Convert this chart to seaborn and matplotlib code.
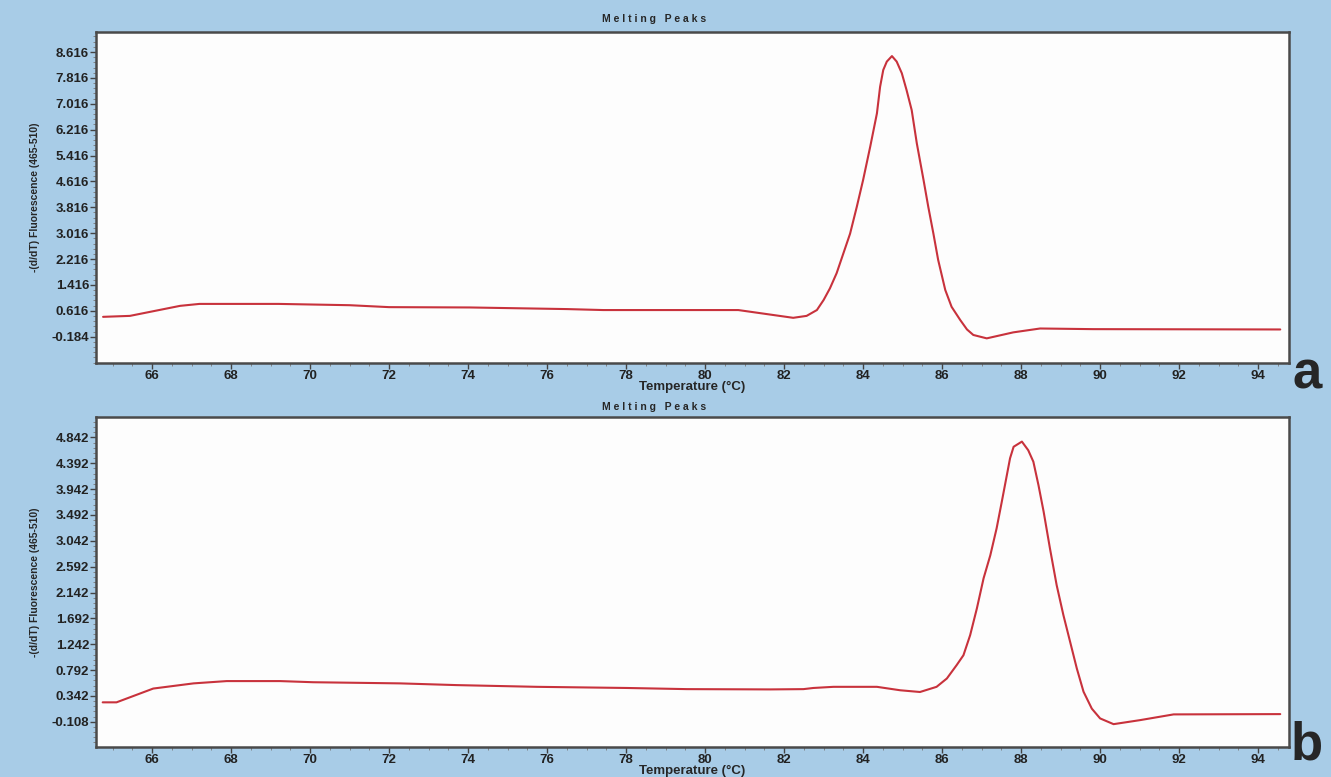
import numpy as np
import pandas as pd
import matplotlib.pyplot as plt
import seaborn as sns
from matplotlib.ticker import AutoMinorLocator

# Melting peak curves (panel a and panel b)
temp_a = [64.76, 65.44, 66.71, 67.2, 69.2, 71.0, 72.0, 74.05, 76.5, 77.42, 80.84,
          82.23, 82.57, 82.83, 83.0, 83.16, 83.33, 83.5, 83.67, 83.84, 84.0, 84.18,
          84.35, 84.43, 84.51, 84.6, 84.73, 84.85, 84.98, 85.1, 85.23, 85.36,
          85.53, 85.65, 85.78, 85.9, 86.08, 86.24, 86.46, 86.63, 86.79, 87.13,
          87.8, 88.48, 89.82, 94.56]
flu_a = [0.43, 0.46, 0.77, 0.83, 0.83, 0.79, 0.73, 0.72, 0.67, 0.64, 0.64,
         0.40, 0.46, 0.64, 0.95, 1.31, 1.78, 2.39, 3.0, 3.83, 4.66, 5.69,
         6.72, 7.54, 8.06, 8.32, 8.49, 8.32, 7.96, 7.44, 6.82, 5.79,
         4.66, 3.83, 3.0, 2.19, 1.26, 0.74, 0.33, 0.04, -0.13, -0.235,
         -0.05, 0.07, 0.05, 0.04]

temp_b = [64.75, 65.1, 66.03, 67.05, 67.89, 69.24, 70.08, 72.28, 73.71, 75.74, 78.02,
          79.54, 81.65, 82.49, 82.74, 83.25, 84.35, 84.94, 85.44, 85.86, 86.12, 86.37,
          86.54, 86.71, 86.88, 87.05, 87.22, 87.38, 87.51, 87.64, 87.72, 87.81, 88.02,
          88.18, 88.31, 88.44, 88.57, 88.73, 88.9, 89.07, 89.24, 89.41, 89.58, 89.79,
          90.0, 90.34, 91.01, 91.86, 94.56]
flu_b = [0.23, 0.23, 0.47, 0.56, 0.60, 0.60, 0.58, 0.56, 0.53, 0.50, 0.48,
         0.46, 0.455, 0.46, 0.48, 0.50, 0.50, 0.44, 0.41, 0.50, 0.645, 0.88,
         1.05, 1.40, 1.865, 2.39, 2.79, 3.26, 3.72, 4.19, 4.48, 4.68, 4.77,
         4.62, 4.42, 4.01, 3.55, 2.91, 2.27, 1.75, 1.285, 0.82, 0.415, 0.12,
         -0.05, -0.15, -0.08, 0.02, 0.025]

ticks_a = [-0.184, 0.616, 1.416, 2.216, 3.016, 3.816, 4.616, 5.416, 6.216, 7.016, 7.816, 8.616]
ticks_b = [-0.108, 0.342, 0.792, 1.242, 1.692, 2.142, 2.592, 3.042, 3.492, 3.942, 4.392, 4.842]
x_ticks = [66, 68, 70, 72, 74, 76, 78, 80, 82, 84, 86, 88, 90, 92, 94]

df_a = pd.DataFrame({'Temperature': temp_a, 'Fluorescence': flu_a})
df_b = pd.DataFrame({'Temperature': temp_b, 'Fluorescence': flu_b})

sns.set_style('ticks')
bg = '#a8cce7'
fig = plt.figure(figsize=(13.31, 7.77), dpi=100, facecolor=bg)

ax_a = fig.add_axes([0.0721, 0.5328, 0.8963, 0.426])
ax_b = fig.add_axes([0.0721, 0.038, 0.8963, 0.4247])

panels = [(ax_a, df_a, ticks_a, (-0.997, 9.234), 0.4914, 1 - 19 / 777, 'a', 1 - 375 / 777),
          (ax_b, df_b, ticks_b, (-0.556, 5.19), 0.4914, 1 - 407 / 777, 'b', 1 - 746 / 777)]

for ax, df, yt, ylim, tx, ty, letter, ly in panels:
    sns.lineplot(data=df, x='Temperature', y='Fluorescence', ax=ax,
                 color='#c8323c', linewidth=1.5)
    ax.set_facecolor('#fdfdfd')
    ax.set_xlim(64.58, 94.78)
    ax.set_ylim(*ylim)
    ax.set_xticks(x_ticks)
    ax.set_yticks(yt)
    ax.set_yticklabels([f'{v:.3f}' for v in yt])
    ax.yaxis.set_minor_locator(AutoMinorLocator(5))
    ax.xaxis.set_minor_locator(AutoMinorLocator(4))
    ax.tick_params(axis='both', which='major', labelsize=9.5, colors='#444444',
                   labelcolor='#222222', length=4, width=1, pad=1)
    ax.tick_params(axis='both', which='minor', length=2, colors='#777777')
    for lab in ax.get_xticklabels() + ax.get_yticklabels():
        lab.set_fontweight('bold')
        lab.set_fontfamily('Liberation Sans')
    for s in ax.spines.values():
        s.set_visible(True)
        s.set_color('#4a4a4a')
        s.set_linewidth(1.8)
    ax.set_xlabel('Temperature (°C)', fontsize=9.5, fontweight='bold',
                  family='Liberation Sans', labelpad=-1)
    ax.set_ylabel('-(d/dT) Fluorescence (465-510)', fontsize=7.5, fontweight='bold',
                  family='Liberation Sans', labelpad=8)
    fig.text(tx, ty, 'M e l t i n g   P e a k s', ha='center', va='center',
             fontsize=7.5, fontweight='bold', family='Liberation Sans')
    fig.text(0.982, ly, letter, ha='center', va='center', fontsize=38,
             fontweight='bold', family='Liberation Sans')

fig.savefig('out.png', dpi=100, facecolor=bg)
